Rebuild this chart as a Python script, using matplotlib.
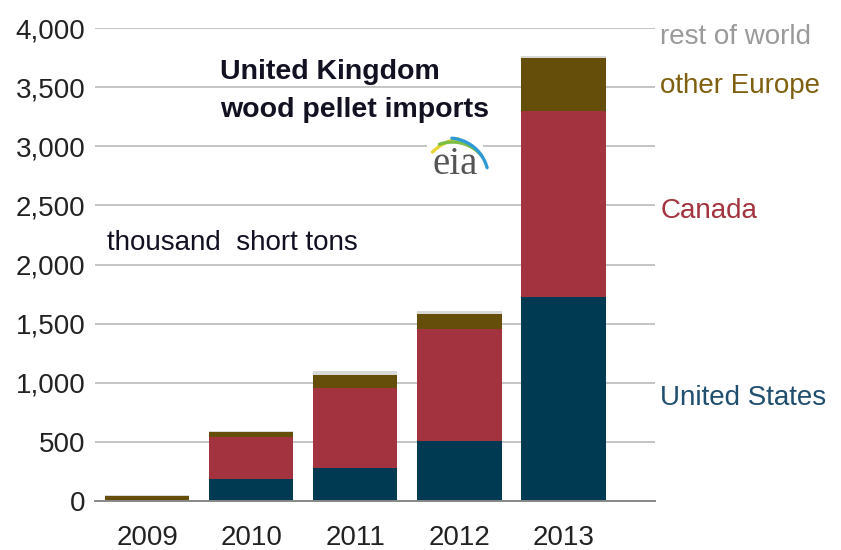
import numpy as np
import matplotlib.pyplot as plt

plt.rcParams['font.family'] = ['Liberation Sans', 'DejaVu Sans']

# datos (miles de toneladas cortas)
anios = ['2009', '2010', '2011', '2012', '2013']
estados_unidos = [0, 183, 282, 505, 1725]
canada = [5, 361, 671, 950, 1575]
otra_europa = [35, 37, 110, 126, 444]
resto_mundo = [10, 9, 36, 26, 19]

series = [
    ('United States', estados_unidos, '#003A52', '#1F4E6E'),
    ('Canada', canada, '#A3333F', '#A3333F'),
    ('other Europe', otra_europa, '#654E0A', '#7F6010'),
    ('rest of world', resto_mundo, '#D9D9D9', '#9A9A9A'),
]

fig = plt.figure(figsize=(8.41, 5.5), dpi=100)
ax = fig.add_axes([0.113, 0.089, 0.666, 0.86])

x = np.arange(len(anios))
base = np.zeros(len(anios))
for nombre, vals, color, _ in series:
    ax.bar(x, vals, bottom=base, width=0.81, color=color, zorder=3)
    base = base + np.array(vals)

ax.set_ylim(0, 4000)
ax.set_xlim(-0.5, 4.88)
ax.set_yticks(np.arange(0, 4001, 500))
ax.set_yticklabels([f'{v:,}' for v in range(0, 4001, 500)])
ax.set_xticks(x)
ax.set_xticklabels(anios)
ax.tick_params(axis='both', length=0, labelsize=20, colors='#222222')
ax.tick_params(axis='y', pad=7)
ax.tick_params(axis='x', pad=17)
ax.grid(axis='y', color='#C4C4C4', linewidth=1.4, zorder=0)
for s in ['top', 'right', 'left']:
    ax.spines[s].set_visible(False)
ax.spines['bottom'].set_color('#888888')
ax.spines['bottom'].set_linewidth(1.4)
ax.spines['bottom'].set_zorder(4)

# etiquetas a la derecha
posiciones = {'United States': 871, 'Canada': 2452, 'other Europe': 3510, 'rest of world': 3925}
for nombre, vals, color, color_txt in series:
    ax.text(4.93, posiciones[nombre], nombre, fontsize=20, color=color_txt,
            va='center', ha='left', clip_on=False)

# titulo
ax.text(0.70, 3628, 'United Kingdom', fontsize=20.5, fontweight='bold',
        color='#111122', ha='left', va='center', zorder=5,
        bbox=dict(facecolor='white', edgecolor='none', pad=1))
ax.text(0.70, 3307, 'wood pellet imports', fontsize=20.5, fontweight='bold',
        color='#111122', ha='left', va='center', zorder=5,
        bbox=dict(facecolor='white', edgecolor='none', pad=1))
ax.text(-0.385, 2182, 'thousand  short tons', fontsize=20, color='#111122', ha='left',
        va='center', zorder=5)

# logo eia (arcos dibujados en pixeles y pasados a datos)
ax.text(2.96, 2765, 'eia', fontsize=28, family='Liberation Serif', color='#555555',
        ha='center', va='baseline', zorder=6,
        bbox=dict(facecolor='white', edgecolor='none', pad=4))

def px(xp, yp):
    return (xp - 95) / 104 - 0.5, (501 - yp) / 0.11825

arcos = [((466, 186), 48, 100, 135, '#E8D431'),
         ((452, 180), 38, 40, 110, '#7DBE45'),
         ((448, 178), 40, 15, 85, '#2E9BD6')]
for (cx, cy), r, a1, a2, c in arcos:
    t = np.radians(np.linspace(a1, a2, 40))
    xs, ys = px(cx + r * np.cos(t), cy - r * np.sin(t))
    ax.plot(xs, ys, color=c, linewidth=2.4, solid_capstyle='round', zorder=7)

plt.savefig('out.png', dpi=100)
